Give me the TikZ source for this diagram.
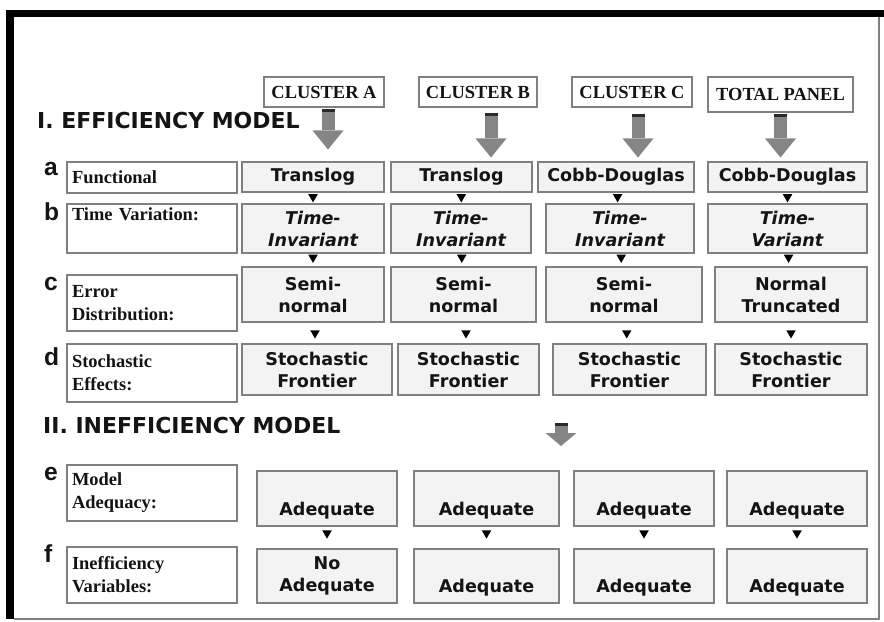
\documentclass[tikz,border=0pt]{standalone}
\usepackage{fontspec}
\usetikzlibrary{arrows.meta,shapes.geometric}
\newfontfamily\boxfnt{DejaVu Sans}
\newfontfamily\labfnt{Liberation Serif}
\newfontfamily\letfnt{Liberation Sans}
\definecolor{Cboxfill}{HTML}{F3F3F3}
\definecolor{Cedge}{HTML}{808080}
\definecolor{Carrow}{HTML}{858585}
\definecolor{Ccap}{HTML}{2A2A2A}
\definecolor{Ctext}{HTML}{141414}
\newcommand\pxu{0.02cm}

\begin{document}
\begin{tikzpicture}[x=0.02cm,y=-0.02cm,
		colbox/.style={draw=Cedge,fill=Cboxfill,line width=0.6pt,inner sep=0pt,
			align=center,text=Ctext,font=\boxfnt\bfseries\fontsize{10}{12.5}\selectfont},
		itbox/.style={colbox,font=\boxfnt\bfseries\itshape\fontsize{10}{12.5}\selectfont},
		labbox/.style={draw=Cedge,fill=white,line width=0.6pt,inner xsep=0.1cm,inner ysep=0pt,
			text width=3.2cm,align=left,text=Ctext,font=\labfnt\bfseries\fontsize{10.5}{13}\selectfont},
		headbox/.style={draw=Cedge,fill=white,line width=0.6pt,inner sep=0pt,
			text=Ctext,font=\labfnt\bfseries\fontsize{10.5}{13}\selectfont},
		rowletter/.style={anchor=base west,text=Ctext,font=\letfnt\bfseries\fontsize{14}{14}\selectfont},
		secttitle/.style={anchor=base west,text=Ctext,font=\boxfnt\bfseries\fontsize{12.5}{14}\selectfont},
		tri/.style={regular polygon,regular polygon sides=3,shape border rotate=180,
			fill=black,inner sep=0pt,minimum size=11*\pxu},
		bigarrow/.style={draw=Carrow,line width=7.4pt,
			-{Triangle[width=17.6pt,length=10.8pt,line width=0pt]}}]
	\useasboundingbox (0,0) rectangle (884,621);
	\fill (6,10) rectangle (884,17);
	\fill (6,10) rectangle (14,619);
	\draw[Cedge,line width=0.8pt] (14,619) -- (879,619) -- (879,17);

	\node[headbox,minimum width=120*\pxu,minimum height=30*\pxu] (hA) at (324,92) {CLUSTER A};
	\node[headbox,minimum width=118*\pxu,minimum height=30*\pxu] (hB) at (478,92) {CLUSTER B};
	\node[headbox,minimum width=120*\pxu,minimum height=30*\pxu] (hC) at (632,92) {CLUSTER C};
	\node[headbox,minimum width=145*\pxu,minimum height=35*\pxu] (hT) at (780.5,94.5) {TOTAL PANEL};

	\node[secttitle] (tI) at (31,129) {I. EFFICIENCY MODEL};
	\node[secttitle] (tII) at (37,433) {II. INEFFICIENCY MODEL};

	\foreach \k/\y in {a/176,b/220,c/290,d/365,e/480,f/562}
		\node[rowletter] (k\k) at (38,\y) {\k};

	\foreach \k/\y/\h/\t in {a/177.5/31/Functional,b/228.5/49/{Time Variation:\\\strut},
			c/303/56/{Error\\Distribution:},d/373/58/{Stochastic\\Effects:},
			e/493/56/{Model\\Adequacy:},f/575/56/{Inefficiency\\Variables:}}
		\node[labbox,minimum height=\h*\pxu] (l\k) at (152,\y) {\t};

	\foreach \c/\x/\w/\t in {1/313/142/Translog,2/461.5/141/Translog,
			3/616/156/Cobb-Douglas,4/787.5/159/Cobb-Douglas}
		\node[colbox,minimum width=\w*\pxu,minimum height=30*\pxu] (a\c) at (\x,177) {\t};
	\foreach \c/\x/\w/\t in {1/313/142/Invariant,2/461/140/Invariant,
			3/620/148/Invariant,4/787.5/159/Variant}
		\node[itbox,minimum width=\w*\pxu,minimum height=49*\pxu] (b\c) at (\x,228.5) {Time-\\\t};
	\foreach \c/\x/\w/\t in {1/313/142/{Semi-\\normal},2/463.5/145/{Semi-\\normal},
			3/624/156/{Semi-\\normal},4/791/152/{Normal\\Truncated}}
		\node[colbox,minimum width=\w*\pxu,minimum height=55*\pxu] (c\c) at (\x,294.5) {\t};
	\foreach \c/\x/\w in {1/317/150,2/468.5/141,3/629.5/153,4/791/152}
		\node[colbox,minimum width=\w*\pxu,minimum height=51*\pxu] (d\c) at (\x,369.5) {Stochastic\\Frontier};
	\foreach \c/\x/\w/\t in {1/327/140/No,2/486.5/145/\strut,3/644/140/\strut,4/797/140/\strut}{
		\node[colbox,minimum width=\w*\pxu,minimum height=55*\pxu] (e\c) at (\x,498.5) {\strut\\Adequate};
		\node[colbox,minimum width=\w*\pxu,minimum height=54*\pxu] (f\c) at (\x,576) {\t\\Adequate};
	}

	\foreach \h/\r/\dx/\s/\e in {hA/a1/4/1/12,hB/a2/13/5/4,hC/a3/6/6/4,hT/a4/0/1/4}{
		\draw[bigarrow] ([xshift=\dx*\pxu,yshift=-\s*\pxu]\h.south) -- ([xshift=\dx*\pxu,yshift=\e*\pxu]\h.south |- \r.north);
		\fill[Ccap] ([xshift=\dx*\pxu-6.5*\pxu,yshift=-\s*\pxu]\h.south) rectangle ++(13,3);
	}

	\coordinate (iiS) at (561,423);
	\coordinate (iiE) at (561,446);
	\draw[bigarrow,-{Triangle[width=17.6pt,length=7.4pt,line width=0pt]}] (iiS) -- (iiE);
	\fill[Ccap] ([xshift=-6.5*\pxu]iiS) rectangle ++(13,3);

	\foreach \ra/\rb/\p in {a/b/0.4,b/c/0.3,c/d/0.5,e/f/0.3}
		\foreach \c in {1,...,4}
			\path (\ra\c.south) -- (\rb\c.north) node[tri,pos=\p] {};
\end{tikzpicture}
\end{document}
